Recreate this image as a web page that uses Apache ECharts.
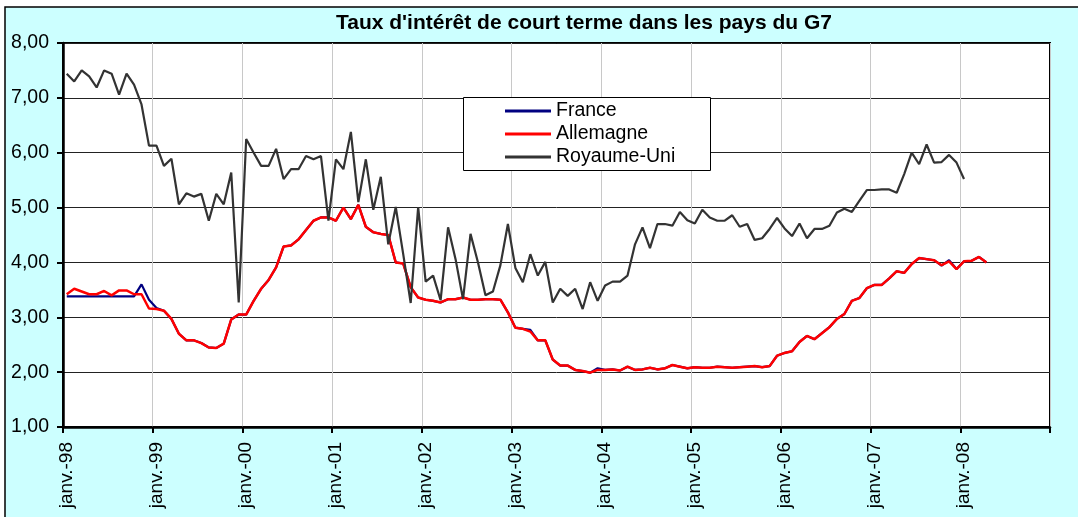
<!DOCTYPE html>
<html>
<head>
<meta charset="utf-8">
<script src="https://cdn.jsdelivr.net/npm/echarts@6/dist/echarts.min.js"></script>
<style>
  html, body { margin: 0; padding: 0; background: #fff; }
  #chart { width: 1078px; height: 517px; }
</style>
</head>
<body>
<div id="chart"></div>
<script>
// mois de janv.-98 a déc.-08 (axe des catégories)
const years = ['98', '99', '00', '01', '02', '03', '04', '05', '06', '07', '08'];
const monthNames = ['janv.', 'févr.', 'mars', 'avr.', 'mai', 'juin', 'juil.', 'août', 'sept.', 'oct.', 'nov.', 'déc.'];
const yTicks = [1, 2, 3, 4, 5, 6, 7, 8];

// taux, un point par mois depuis janv.-98
const france = [
  3.38, 3.38, 3.38, 3.38, 3.38, 3.38, 3.38, 3.38, 3.38, 3.38, 3.60, 3.32,
  3.17, 3.12, 2.97, 2.70, 2.58, 2.58, 2.53, 2.45, 2.44, 2.52, 2.96, 3.05,
  3.05, 3.30, 3.52, 3.68, 3.91, 4.29, 4.31, 4.42, 4.59, 4.76, 4.82, 4.82,
  4.76, 5.00, 4.79, 5.05, 4.65, 4.55, 4.52, 4.50, 4.00, 3.98, 3.55, 3.36,
  3.32, 3.30, 3.27, 3.33, 3.33, 3.36, 3.32, 3.32, 3.33, 3.33, 3.32, 3.09,
  2.81, 2.79, 2.77, 2.58, 2.58, 2.23, 2.12, 2.12, 2.04, 2.02, 1.99, 2.07,
  2.04, 2.05, 2.03, 2.10, 2.04, 2.05, 2.08, 2.05, 2.07, 2.13, 2.10, 2.07,
  2.09, 2.08, 2.08, 2.10, 2.09, 2.08, 2.09, 2.10, 2.11, 2.09, 2.11, 2.30,
  2.35, 2.38, 2.55, 2.66, 2.60, 2.71, 2.82, 2.97, 3.06, 3.30, 3.35, 3.53,
  3.59, 3.59, 3.71, 3.84, 3.81, 3.97, 4.08, 4.06, 4.04, 3.94, 4.04, 3.88,
  4.02, 4.03, 4.10, 4.00
];
const allemagne = [
  3.42, 3.52, 3.47, 3.42, 3.42, 3.48, 3.40, 3.49, 3.49, 3.42, 3.42, 3.16,
  3.15, 3.12, 2.97, 2.70, 2.58, 2.58, 2.53, 2.45, 2.44, 2.52, 2.96, 3.05,
  3.05, 3.30, 3.52, 3.68, 3.91, 4.29, 4.31, 4.42, 4.59, 4.76, 4.82, 4.82,
  4.76, 5.00, 4.79, 5.05, 4.65, 4.55, 4.52, 4.50, 4.00, 3.98, 3.55, 3.36,
  3.32, 3.30, 3.27, 3.33, 3.33, 3.36, 3.32, 3.32, 3.33, 3.33, 3.32, 3.09,
  2.81, 2.79, 2.74, 2.58, 2.58, 2.23, 2.12, 2.12, 2.04, 2.02, 1.99, 2.04,
  2.04, 2.05, 2.03, 2.10, 2.04, 2.05, 2.08, 2.05, 2.07, 2.13, 2.10, 2.07,
  2.09, 2.08, 2.08, 2.10, 2.09, 2.08, 2.09, 2.10, 2.11, 2.09, 2.11, 2.30,
  2.35, 2.38, 2.55, 2.66, 2.60, 2.71, 2.82, 2.97, 3.06, 3.30, 3.35, 3.53,
  3.59, 3.59, 3.71, 3.84, 3.81, 3.97, 4.08, 4.06, 4.04, 3.95, 4.02, 3.88,
  4.02, 4.03, 4.10, 4.00
];
const royaumeUni = [
  7.44, 7.30, 7.50, 7.39, 7.19, 7.50, 7.44, 7.06, 7.44, 7.24, 6.88, 6.13,
  6.13, 5.76, 5.89, 5.06, 5.26, 5.20, 5.25, 4.76, 5.25, 5.06, 5.64, 3.27,
  6.25, 6.00, 5.76, 5.76, 6.07, 5.52, 5.70, 5.70, 5.94, 5.88, 5.94, 4.76,
  5.88, 5.70, 6.38, 5.10, 5.88, 4.96, 5.56, 4.33, 5.01, 4.15, 3.26, 5.01,
  3.65, 3.76, 3.31, 4.64, 4.06, 3.33, 4.52, 4.00, 3.40, 3.47, 3.95, 4.70,
  3.90, 3.64, 4.15, 3.76, 4.01, 3.27, 3.52, 3.39, 3.52, 3.15, 3.64, 3.30,
  3.58, 3.65, 3.65, 3.76, 4.33, 4.64, 4.26, 4.70, 4.70, 4.67, 4.92, 4.77,
  4.71, 4.96, 4.82, 4.76, 4.76, 4.86, 4.65, 4.70, 4.41, 4.44, 4.61, 4.81,
  4.62, 4.48, 4.71, 4.44, 4.61, 4.61, 4.67, 4.91, 4.98, 4.92, 5.12, 5.32,
  5.32, 5.33, 5.33, 5.27, 5.61, 6.00, 5.79, 6.15, 5.82, 5.83, 5.96, 5.82,
  5.52
];

let months = []
years.forEach(y => {
  monthNames.forEach(m => months.push(m + '-' + y))
})

const font = 'Liberation Sans, Arial, sans-serif'
const chart = echarts.init(document.getElementById('chart'))

chart.setOption({
  backgroundColor: '#fff',
  animation: false,
  title: {
    text: "Taux d'intérêt de court terme dans les pays du G7",
    left: 336,
    top: 13,
    padding: 0,
    textStyle: { fontFamily: font, fontSize: 21, fontWeight: 'bold', color: '#000' }
  },
  graphic: [
    {
      type: 'rect', z: -10, silent: true,
      shape: { x: 5, y: 7, width: 1100, height: 540 },
      style: { fill: '#CCFFFF', stroke: '#000', lineWidth: 1.5 }
    },
    {
      type: 'rect', z: 3, silent: true,
      shape: { x: 463.5, y: 97.5, width: 247, height: 73 },
      style: { fill: '#fff', stroke: '#000', lineWidth: 1 }
    }
  ],
  legend: {
    orient: 'vertical',
    left: 505,
    top: 101,
    padding: 0,
    itemGap: 3,
    itemWidth: 46,
    itemHeight: 3,
    itemTextGap: 5,
    icon: 'rect',
    textStyle: { fontFamily: font, fontSize: 19.5, lineHeight: 20, color: '#000' },
    data: ['France', 'Allemagne', 'Royaume-Uni']
  },
  grid: {
    left: 63, right: 28, top: 43, bottom: 90,
    show: true,
    backgroundColor: '#fff',
    borderColor: '#000',
    borderWidth: 2
  },
  xAxis: {
    type: 'category',
    data: months,
    boundaryGap: true,
    axisLine: { lineStyle: { color: '#000', width: 2.5 } },
    axisTick: { show: true, interval: 11, length: 6, lineStyle: { color: '#000', width: 2 } },
    axisLabel: {
      interval: 11, rotate: 90, margin: 15,
      fontFamily: font, fontSize: 19, color: '#000'
    },
    splitLine: { show: true, interval: 11, lineStyle: { color: '#C8C8C8', width: 1 } }
  },
  yAxis: {
    type: 'value',
    min: yTicks[0],
    max: yTicks[yTicks.length - 1],
    interval: 1,
    axisLine: { show: true, lineStyle: { color: '#000', width: 2.5 } },
    axisTick: { show: true, length: 6, lineStyle: { color: '#000', width: 2 } },
    axisLabel: {
      margin: 14,
      fontFamily: font, fontSize: 19.5, color: '#000',
      formatter: v => v.toFixed(2).replace('.', ',')
    },
    splitLine: { lineStyle: { color: '#222', width: 1 } }
  },
  series: [
    {
      name: 'France', type: 'line', data: france, showSymbol: false, symbol: 'none',
      color: '#000080', lineStyle: { width: 2.2 }, z: 2
    },
    {
      name: 'Allemagne', type: 'line', data: allemagne, showSymbol: false, symbol: 'none',
      color: '#FF0000', lineStyle: { width: 2.5 }, z: 3
    },
    {
      name: 'Royaume-Uni', type: 'line', data: royaumeUni, showSymbol: false, symbol: 'none',
      color: '#333333', lineStyle: { width: 2.2 }, z: 3
    }
  ]
})
</script>
</body>
</html>
